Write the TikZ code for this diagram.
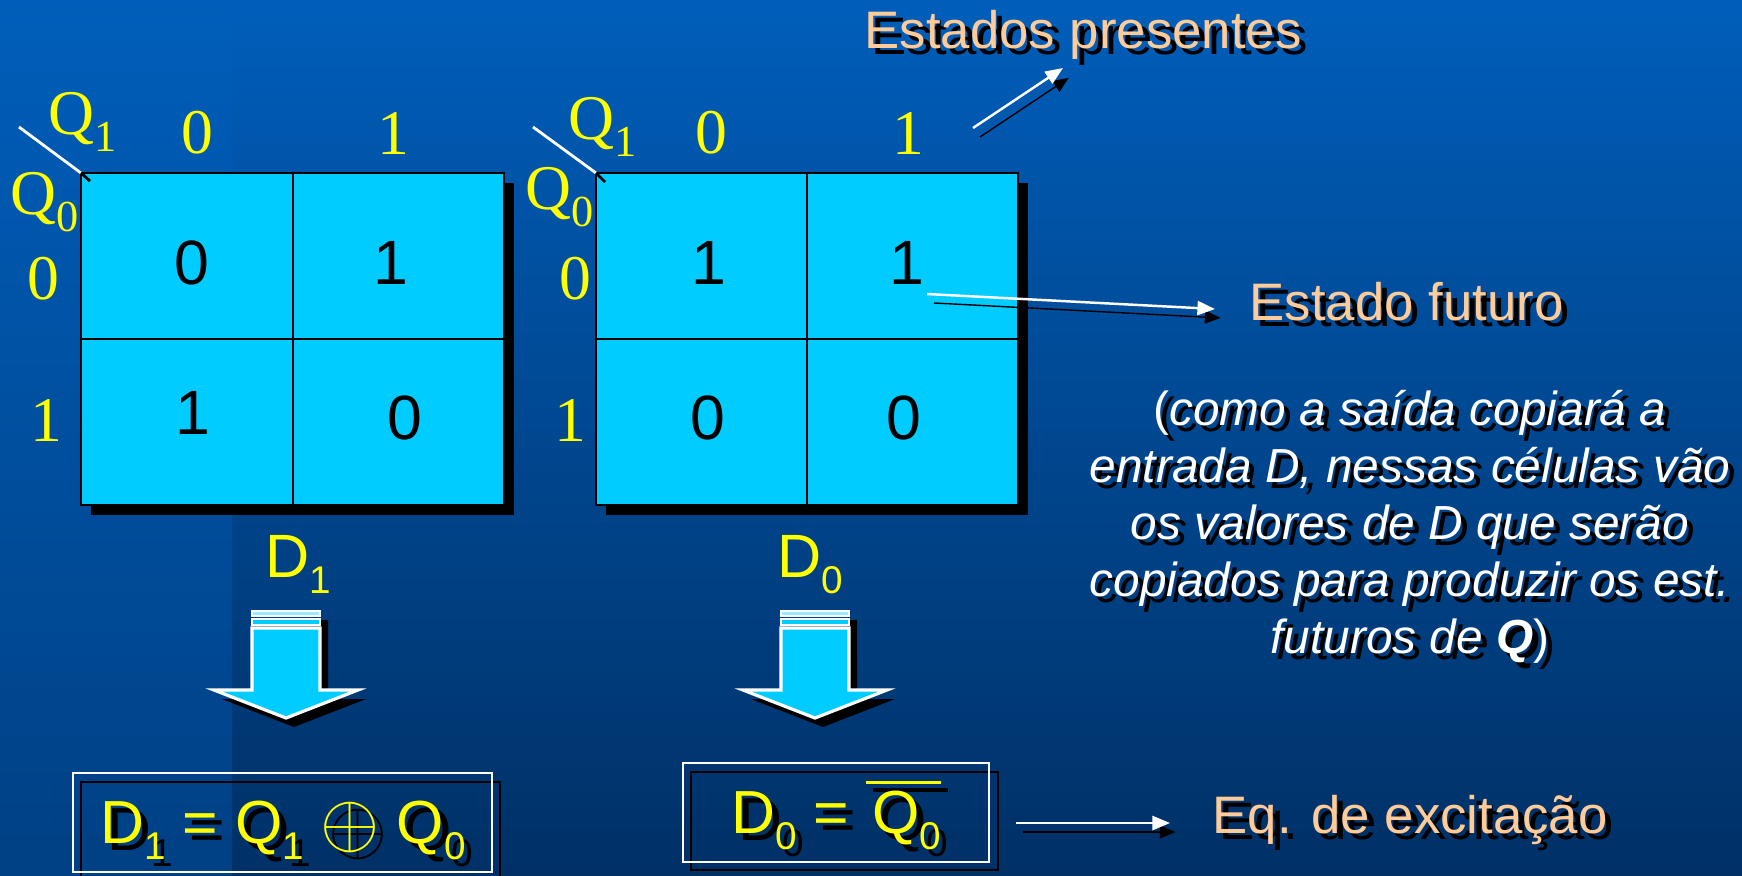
\documentclass[tikz,border=0pt]{standalone}
\usepackage{fontspec}
\setmainfont{Liberation Sans}
\newfontfamily\tms{Liberation Serif}
\usetikzlibrary{arrows.meta}
\definecolor{bgtop}{RGB}{0,94,186}
\definecolor{bgbot}{RGB}{0,48,102}
\definecolor{stripbot}{RGB}{0,64,132}
\definecolor{kcell}{RGB}{0,204,255}
\definecolor{peach}{RGB}{255,204,153}
\definecolor{yel}{RGB}{255,255,0}
\newcommand{\shtext}[1]{\leavevmode\rlap{\kern.12em\raisebox{-.12em}{\color{black}#1}}#1}
\newcommand{\kidx}[2][11]{\raisebox{-.27em}{\fontsize{#1}{#1}\selectfont #2}}
\newcommand{\ovl}[1]{\vbox{\hrule height 1pt\kern .1em\hbox{\kern.1em#1}}}
\newcommand{\xorsym}{\raisebox{-.06em}{\scalebox{1.25}{$\oplus$}}}
\tikzset{
  kmap/.style={fill=kcell, draw=black, line width=0.6pt},
  kval/.style={font=\fontsize{17.8}{20}\selectfont, inner sep=0pt},
  klbl/.style={font=\tms\fontsize{18.1}{20}\selectfont, text=yel, inner sep=0pt},
  note/.style={font=\fontsize{15}{18}\selectfont, text=peach, inner sep=0pt, anchor=base west},
  eqtext/.style={font=\fontsize{17.3}{20}\selectfont, text=yel, inner sep=0pt, anchor=base},
  para/.style={font=\fontsize{13.6}{16.2}\selectfont, text=white, align=center, anchor=north, inner sep=0pt},
  ptr/.style={draw=white, line width=0.7pt, -{Triangle[length=5pt,width=4pt]},
    preaction={draw=black, transform canvas={shift={(7,9)}}}},
}
\begin{document}
\begin{tikzpicture}[x=0.01cm, y=-0.01cm]
  \useasboundingbox (0,0) rectangle (1742,875);
  \shade[top color=bgtop, bottom color=bgbot] (0,0) rectangle (1742,875);
  \shade[top color=bgtop, bottom color=stripbot] (0,0) rectangle (232,875);

  % mapa de D1
  \fill[black] (91,183) rectangle (514,515);
  \draw[kmap] (81,173) rectangle (504,505);
  \draw[line width=0.6pt] (293,173) -- (293,505) (81,339) -- (504,339);
  \draw[white, line width=0.8pt] (19,127) -- (81,173);
  \draw[black, line width=0.8pt] (81,173) -- (90,181);
  \node[kval] (l00) at (192,263) {0};
  \node[kval] (l01) at (391,263) {1};
  \node[kval] (l10) at (193,413) {1};
  \node[kval] (l11) at (405,418) {0};
  \node[klbl, anchor=base west] (lq1) at (48,134) {Q\kidx[12.6]{1}};
  \node[klbl, anchor=base west] (lq0) at (10,214) {Q\kidx[12.6]{0}};
  \node[klbl] (lc0) at (197,133) {0};
  \node[klbl] (lc1) at (393,133) {1};
  \node[klbl] (lr0) at (43,279) {0};
  \node[klbl] (lr1) at (46,420) {1};

  % mapa de D0
  \fill[black] (606,183) rectangle (1028,515);
  \draw[kmap] (596,173) rectangle (1018,505);
  \draw[line width=0.6pt] (807,173) -- (807,505) (596,339) -- (1018,339);
  \draw[white, line width=0.8pt] (533,127) -- (596,173);
  \draw[black, line width=0.8pt] (596,173) -- (605,182);
  \node[kval] (r00) at (709,263) {1};
  \node[kval] (r01) at (907,263) {1};
  \node[kval] (r10) at (708,418) {0};
  \node[kval] (r11) at (904,418) {0};
  \node[klbl, anchor=base west] (rq1) at (568,139) {Q\kidx[12.6]{1}};
  \node[klbl, anchor=base west] (rq0) at (525,209) {Q\kidx[12.6]{0}};
  \node[klbl] (rc0) at (711,133) {0};
  \node[klbl] (rc1) at (908,133) {1};
  \node[klbl] (rr0) at (575,279) {0};
  \node[klbl] (rr1) at (570,420) {1};

  \node[font=\fontsize{17.4}{20}\selectfont, text=yel, inner sep=0pt, anchor=base west] (d1) at (265,577) {D\kidx{1}};
  \node[font=\fontsize{17.4}{20}\selectfont, text=yel, inner sep=0pt, anchor=base west] (d0) at (777,577) {D\kidx{0}};

  \foreach \x in {286,815}{
    \fill[black, shift={(8,9)}] (\x-34,611) -- (\x+34,611) -- (\x+34,690) -- (\x+72,690)
      -- (\x,718) -- (\x-72,690) -- (\x-34,690) -- cycle;
    \draw[white, fill=kcell!40!white, line width=0.5pt] (\x-34,611) rectangle (\x+34,616);
    \draw[white, fill=kcell, line width=0.5pt] (\x-34,619) rectangle (\x+34,625);
    \draw[white, fill=kcell, line width=0.9pt] (\x-34,628) -- (\x+34,628) -- (\x+34,690)
      -- (\x+72,690) -- (\x,718) -- (\x-72,690) -- (\x-34,690) -- cycle;
  }

  \draw[black, line width=0.7pt] (81,782) rectangle (500,881);
  \draw[white, line width=0.7pt] (73,773) rectangle (492,872);
  \node[eqtext] (eq1) at (283,843) {\shtext{D\kidx{1} = Q\kidx{1} \xorsym{} Q\kidx{0}}};
  \draw[black, line width=0.7pt] (691,772) rectangle (998,870);
  \draw[white, line width=0.7pt] (683,763) rectangle (989,862);
  \node[eqtext] (eq0) at (836,833) {\shtext{D\kidx{0} = \ovl{Q\kidx{0}}}};

  \node[note] (pres) at (864,48) {\shtext{Estados presentes}};
  \node[note] (fut) at (1249,320) {\shtext{Estado futuro}};
  \node[note] (exc) at (1212,833) {\shtext{Eq. de excitação}};
  \node[para] (nota) at (1410,390) {\shtext{(\textit{como a saída copiará a}}\\
    \shtext{\textit{entrada D, nessas células vão}}\\
    \shtext{\textit{os valores de D que serão}}\\
    \shtext{\textit{copiados para produzir os est.}}\\
    \shtext{\textit{futuros de \textbf{Q}})}};

  \coordinate (p0) at (973,128);
  \coordinate (p1) at (1063,68);
  \coordinate (f0) at (927,294);
  \coordinate (f1) at (1215,309);
  \coordinate (e0) at (1016,823);
  \coordinate (e1) at (1170,823);
  \draw[ptr] (p0) -- (p1);
  \draw[ptr] (f0) -- (f1);
  \draw[ptr] (e0) -- (e1);
\end{tikzpicture}
\end{document}
